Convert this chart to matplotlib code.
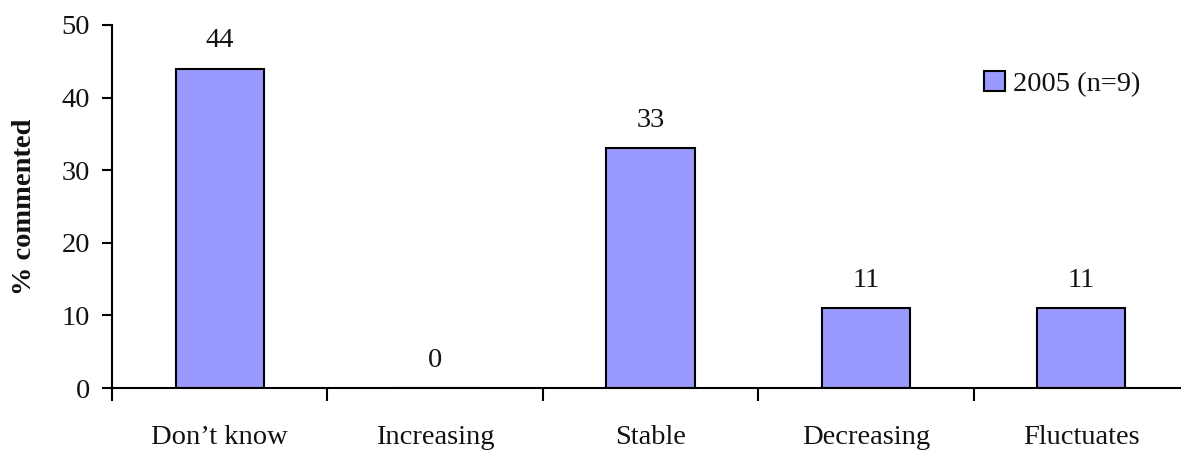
import numpy as np
import matplotlib
matplotlib.use("Agg")
import matplotlib.pyplot as plt

# Data
categories = ["Don\u2019t know", "Increasing", "Stable", "Decreasing", "Fluctuates"]
values = [44, 0, 33, 11, 11]
series_name = "2005 (n=9)"
yticks = [0, 10, 20, 30, 40, 50]

plt.rcParams['font.family'] = ['Liberation Serif', 'DejaVu Serif']
fs = 20.5
tc = "#111111"

fig = plt.figure(figsize=(11.81, 4.51), dpi=100)
# axes runs a little past the right edge, like the original crop
ax = fig.add_axes([112/1181, 63/451, 1077/1181, 363/451])

x = np.arange(len(categories)) + 0.5
ax.bar(x, values, width=0.41, color="#9999ff", edgecolor="black",
       linewidth=1.5, label=series_name, zorder=2)

for xi, v in zip(x, values):
    ax.annotate(str(v), (xi, v), xytext=(0, 20), textcoords="offset points",
                ha="center", va="center", fontsize=fs, color=tc)

ax.set_xlim(0, len(categories))
ax.set_ylim(0, 50)
ax.set_yticks(yticks)
ax.tick_params(axis="y", labelsize=fs, length=7, width=1.5, pad=9,
               labelcolor=tc)

# ticks between categories, labels at centres
ax.set_xticks(np.arange(len(categories) + 1))
ax.set_xticklabels([])
ax.set_xticks(x, minor=True)
ax.set_xticklabels(categories, minor=True)
ax.tick_params(axis="x", which="major", direction="out", length=9, width=1.5)
ax.tick_params(axis="x", which="minor", length=0, pad=27, labelsize=fs,
               labelcolor=tc)

for s in ["top", "right"]:
    ax.spines[s].set_visible(False)
for s in ["left", "bottom"]:
    ax.spines[s].set_linewidth(1.5)

ax.set_ylabel("% commented", fontsize=fs, fontweight="bold", color=tc)
ax.yaxis.label.set_va("center")
ax.yaxis.set_label_coords(-0.081, 0.5)

fig.legend(loc="center left", bbox_to_anchor=(984/1181, 1 - 84/451),
           frameon=False, fontsize=fs, handlelength=0.72, handleheight=0.72,
           handletextpad=0.3, borderpad=0, borderaxespad=0,
           labelcolor=tc)

fig.savefig("out.png", dpi=100)
